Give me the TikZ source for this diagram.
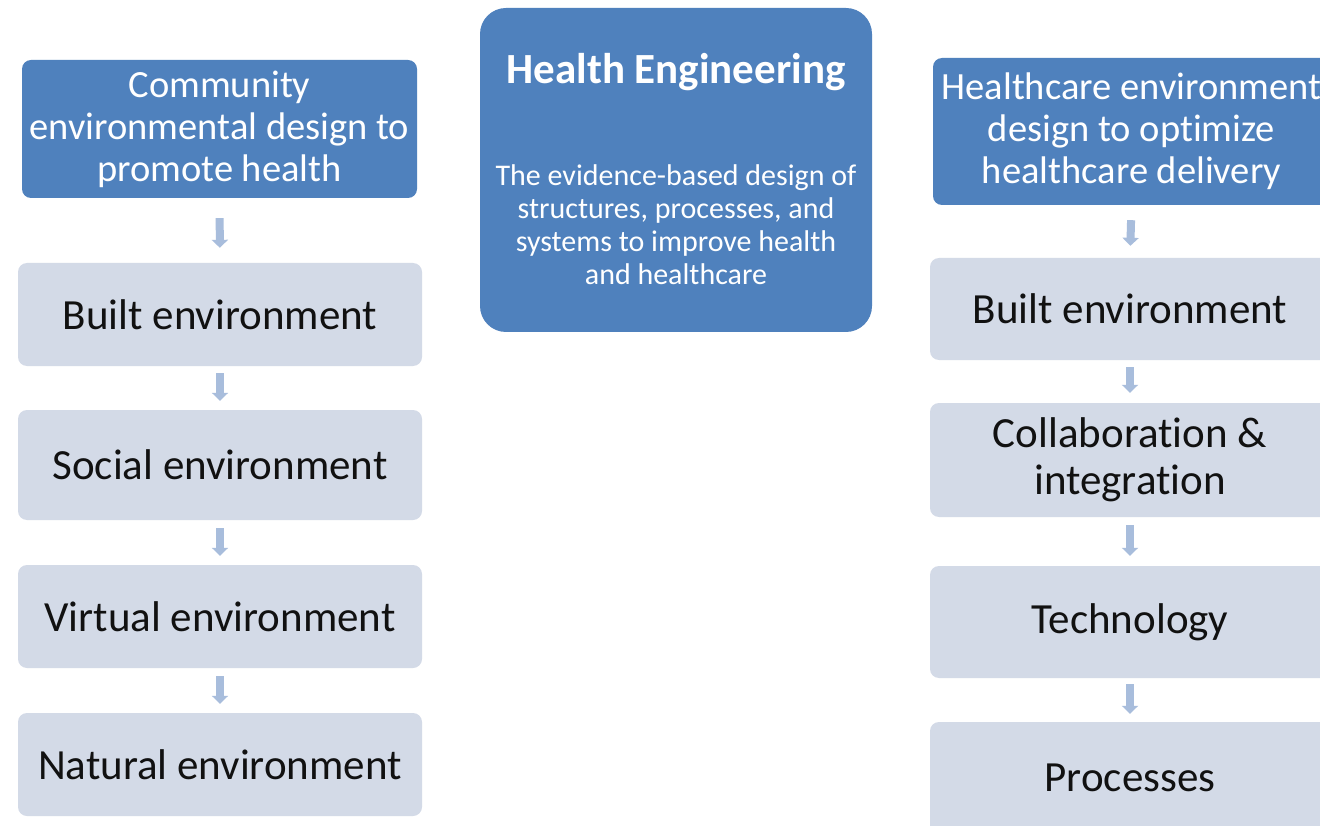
\documentclass[tikz,border=0pt]{standalone}
\usepackage{fontspec}
\setmainfont[Ligatures={NoCommon}]{Carlito}
\usetikzlibrary{arrows.meta}
\definecolor{hdblue}{HTML}{4F81BD}
\definecolor{ltbox}{HTML}{D3DAE7}
\definecolor{arrcol}{HTML}{A8BDDC}
\definecolor{txtdark}{HTML}{111111}
\tikzset{
  hdbox/.style={fill=hdblue, draw=none, rounded corners=9pt, text=white, align=center,
    font=\fontsize{38.5}{42}\selectfont, inner sep=0pt},
  itembox/.style={fill=ltbox, draw=none, rounded corners=9pt, text=txtdark, align=center,
    font=\fontsize{43}{47}\selectfont, inner sep=0pt},
  flowarr/.style={draw=arrcol, line width=8pt, -{Triangle[width=16pt,length=8pt]}},
}
\begin{document}
\begin{tikzpicture}[x=1pt,y=-1pt]
\path[use as bounding box] (0,0) rectangle (1320,826);
\clip (0,0) rectangle (1320,826);
\fill[white] (0,0) rectangle (1320,826);

% left column
\node[hdbox, minimum width=395pt, minimum height=138pt] (lh) at (219.5,129) {Community\\environmental design to\\promote health};
\node[itembox, minimum width=404pt, minimum height=103pt] (l1) at (220,314.5) {Built environment};
\node[itembox, minimum width=404pt, minimum height=110pt] (l2) at (220,465) {Social environment};
\node[itembox, minimum width=404pt, minimum height=103pt] (l3) at (220,616.5) {Virtual environment};
\node[itembox, minimum width=404pt, minimum height=103pt] (l4) at (220,764.5) {Natural environment};

\draw[flowarr, shorten <=20pt, shorten >=15pt] (lh.south) -- (l1.north);
\draw[flowarr, shorten <=7pt, shorten >=9pt] (l1.south) -- (l2.north);
\draw[flowarr, shorten <=8pt, shorten >=9pt] (l2.south) -- (l3.north);
\draw[flowarr, shorten <=8pt, shorten >=9pt] (l3.south) -- (l4.north);

% center box
\node[fill=hdblue, draw=none, rounded corners=26pt, minimum width=392pt, minimum height=324pt, inner sep=0pt] (he) at (676,170) {};
\node[text=white, font=\bfseries\fontsize{43}{47}\selectfont, inner sep=0pt] (het) at (676,72) {Health Engineering};
\node[text=white, align=center, font=\fontsize{30}{33}\selectfont, inner sep=0pt] (hed) at (676,225) {The evidence-based design of\\structures, processes, and\\systems to improve health\\and healthcare};

% right column
\node[hdbox, minimum width=397pt, minimum height=147pt] (rh) at (1131.5,131.5) {Healthcare environment\\design to optimize\\healthcare delivery};
\node[itembox, minimum width=400pt, minimum height=102pt] (r1) at (1130,309) {Built environment};
\node[itembox, minimum width=400pt, minimum height=114pt] (r2) at (1130,460) {Collaboration \&\\integration};
\node[itembox, minimum width=400pt, minimum height=112pt] (r3) at (1130,622) {Technology};
\node[itembox, minimum width=400pt, minimum height=112pt] (r4) at (1130,778) {Processes};

\draw[flowarr, shorten <=15pt, shorten >=12pt] (rh.south) -- (r1.north);
\draw[flowarr, shorten <=7pt, shorten >=10pt] (r1.south) -- (r2.north);
\draw[flowarr, shorten <=8pt, shorten >=10pt] (r2.south) -- (r3.north);
\draw[flowarr, shorten <=6pt, shorten >=8pt] (r3.south) -- (r4.north);
\end{tikzpicture}
\end{document}
